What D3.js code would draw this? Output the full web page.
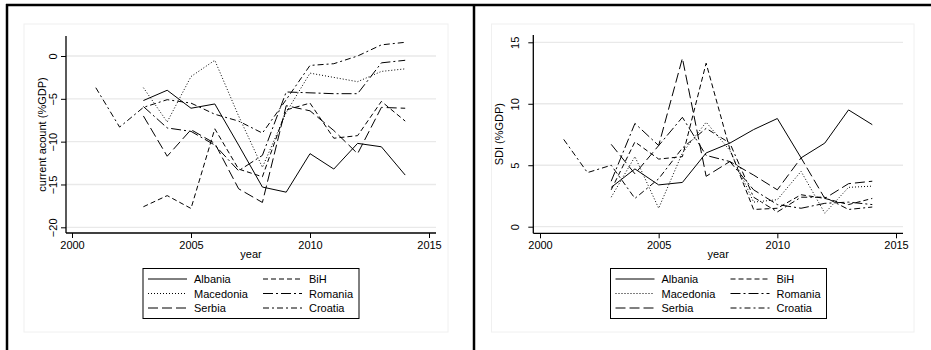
<!DOCTYPE html>
<html>
<head>
<meta charset="utf-8">
<script src="https://cdn.jsdelivr.net/npm/d3@7"></script>
<style>
  body { margin: 0; background: #fff; }
  svg { display: block; font-family: "Liberation Sans", Arial, sans-serif; }
  .tick text { font-size: 11px; fill: #000; }
</style>
</head>
<body>
<div id="chart"></div>
<script>
// years
const years = [2003, 2004, 2005, 2006, 2007, 2008, 2009, 2010, 2011, 2012, 2013, 2014];
const yearsCroatia = [2001, 2002, 2003, 2004, 2005, 2006, 2007, 2008, 2009, 2010, 2011, 2012, 2013, 2014];

const countries = ["Albania", "BiH", "Macedonia", "Romania", "Serbia", "Croatia"];

// current account (%GDP)
const caAlbania   = [-5.2, -4.0, -6.1, -5.6, -10.4, -15.3, -15.9, -11.4, -13.2, -10.2, -10.6, -13.9];
const caBiH       = [-17.6, -16.3, -17.8, -8.5, -13.2, -14.1, -6.3, -5.5, -9.6, -9.3, -5.3, -7.6];
const caMacedonia = [-3.7, -7.7, -2.4, -0.5, -7.0, -13.0, -6.6, -2.0, -2.5, -3.0, -1.8, -1.5];
const caRomania   = [-5.9, -8.4, -8.8, -10.4, -13.4, -11.6, -4.2, -4.3, -4.4, -4.4, -0.8, -0.5];
const caSerbia    = [-7.0, -11.7, -8.6, -10.2, -15.5, -17.1, -5.8, -6.4, -8.7, -11.4, -6.0, -6.1];
const caCroatia   = [-3.7, -8.3, -6.0, -5.1, -5.5, -6.8, -7.6, -9.0, -5.1, -1.1, -0.9, 0.0, 1.3, 1.6];

// SDI (%GDP)
const sdiAlbania   = [3.2, 4.7, 3.4, 3.6, 6.0, 6.8, 7.9, 8.8, 5.6, 6.8, 9.5, 8.3];
const sdiBiH       = [3.0, 6.9, 5.5, 5.7, 13.3, 6.3, 1.4, 1.5, 2.6, 2.3, 1.8, 2.3];
const sdiMacedonia = [2.4, 5.7, 1.5, 6.0, 8.5, 6.2, 2.0, 2.2, 4.5, 1.1, 3.2, 3.3];
const sdiRomania   = [3.7, 8.4, 6.6, 8.9, 5.8, 5.3, 3.0, 1.8, 1.5, 1.9, 2.0, 1.8];
const sdiSerbia    = [6.7, 4.3, 6.6, 13.7, 4.1, 5.3, 4.2, 3.0, 5.6, 2.3, 3.5, 3.7];
const sdiCroatia   = [7.1, 4.4, 5.0, 2.3, 3.9, 6.4, 8.0, 6.8, 2.4, 1.2, 2.4, 2.4, 1.4, 1.6];

const xTicks = [2000, 2005, 2010, 2015];
const caTicks = [-20, -15, -10, -5, 0];
const sdiTicks = [0, 5, 10, 15];

// line patterns
const dashes = {
  Albania: null,
  BiH: "5,3",
  Macedonia: "1,2",
  Romania: "10,3,2,3",
  Serbia: "10,4",
  Croatia: "6,3,2,3"
};

const svg = d3.select("#chart").append("svg")
  .attr("width", 931)
  .attr("height", 350);

function drawPanel(p) {
  const g = svg.append("g");

  g.append("rect")
    .attr("x", p.region[0]).attr("y", p.region[1])
    .attr("width", p.region[2] - p.region[0]).attr("height", p.region[3] - p.region[1])
    .attr("fill", "#fff").attr("stroke", "#f0f0f0").attr("stroke-width", 1);

  const x = d3.scaleLinear().domain([2000, 2015]).range(p.xRange);
  const y = d3.scaleLinear().domain(p.yDomain).range(p.yRange);

  // grid
  g.append("g").selectAll("line").data(p.yTicks).enter()
    .append("line")
    .attr("x1", p.axisX).attr("x2", p.gridEnd)
    .attr("y1", d => y(d)).attr("y2", d => y(d))
    .attr("stroke", "#e9e9e9").attr("stroke-width", 1.3);

  // y axis
  const yAxis = g.append("g")
    .attr("transform", `translate(${p.axisX},0)`)
    .call(d3.axisLeft(y).tickValues(p.yTicks).tickSize(5).tickFormat(d3.format("d")));
  yAxis.select(".domain").remove();
  yAxis.selectAll(".tick line").attr("stroke", "#000").attr("stroke-width", 1);
  yAxis.selectAll(".tick text")
    .attr("x", null).attr("dy", null)
    .attr("text-anchor", "middle")
    .attr("transform", `translate(${p.tickLabelX - p.axisX + 4},0) rotate(-90)`);

  g.append("line")
    .attr("x1", p.axisX).attr("x2", p.axisX)
    .attr("y1", p.axisTop).attr("y2", p.axisY)
    .attr("stroke", "#000").attr("stroke-width", 1.3);

  // x axis
  const xAxis = g.append("g")
    .attr("transform", `translate(0,${p.axisY})`)
    .call(d3.axisBottom(x).tickValues(xTicks).tickSize(5).tickPadding(3).tickFormat(d3.format("d")));
  xAxis.select(".domain").remove();
  xAxis.selectAll(".tick line").attr("stroke", "#000").attr("stroke-width", 1);

  g.append("line")
    .attr("x1", p.axisX).attr("x2", p.gridEnd)
    .attr("y1", p.axisY).attr("y2", p.axisY)
    .attr("stroke", "#000").attr("stroke-width", 1.3);

  // axis titles
  g.append("text")
    .attr("transform", `translate(${p.yLabelX + 4},${(p.axisTop + p.axisY) / 2}) rotate(-90)`)
    .attr("text-anchor", "middle")
    .attr("font-size", 11)
    .text(p.yLabel);

  g.append("text")
    .attr("x", (p.axisX + p.gridEnd) / 2)
    .attr("y", 258)
    .attr("text-anchor", "middle")
    .attr("font-size", 11)
    .text("year");

  // series
  const line = d3.line()
    .x(d => x(d[0]))
    .y(d => y(d[1]));

  g.append("g").selectAll("path").data(p.series).enter()
    .append("path")
    .attr("d", d => line(d.years.map((yr, i) => [yr, d.values[i]])))
    .attr("fill", "none")
    .attr("stroke", "#000")
    .attr("stroke-width", 1)
    .attr("stroke-dasharray", d => dashes[d.name]);

  // legend
  const lx = p.legendX;
  const legend = g.append("g");
  legend.append("rect")
    .attr("x", lx).attr("y", 268.5)
    .attr("width", 216).attr("height", 50)
    .attr("fill", "#fff").attr("stroke", "#000").attr("stroke-width", 1);

  const items = legend.selectAll("g.item").data(countries).enter()
    .append("g")
    .attr("class", "item")
    .attr("transform", (d, i) => `translate(${lx + (i % 2) * 115},${279 + Math.floor(i / 2) * 14.5})`);

  items.append("line")
    .attr("x1", 5).attr("x2", 44)
    .attr("y1", 0).attr("y2", 0)
    .attr("stroke", "#000").attr("stroke-width", 1)
    .attr("stroke-dasharray", d => dashes[d]);

  items.append("text")
    .attr("x", 51).attr("y", 4)
    .attr("font-size", 11)
    .text(d => d);
}

drawPanel({
  region: [24, 24, 448, 332],
  xRange: [72, 429],
  yDomain: [-20, 0],
  yRange: [227.3, 56],
  yTicks: caTicks,
  axisX: 66,
  axisTop: 36,
  axisY: 233,
  gridEnd: 436,
  tickLabelX: 53.3,
  yLabelX: 42,
  yLabel: "current acount (%GDP)",
  legendX: 143,
  series: [
    { name: "Albania", years: years, values: caAlbania },
    { name: "BiH", years: years, values: caBiH },
    { name: "Macedonia", years: years, values: caMacedonia },
    { name: "Romania", years: years, values: caRomania },
    { name: "Serbia", years: years, values: caSerbia },
    { name: "Croatia", years: yearsCroatia, values: caCroatia }
  ]
});

drawPanel({
  region: [491.5, 24, 914, 332],
  xRange: [540, 896],
  yDomain: [0, 15],
  yRange: [226.7, 42.3],
  yTicks: sdiTicks,
  axisX: 533.3,
  axisTop: 35,
  axisY: 233.3,
  gridEnd: 903,
  tickLabelX: 514.5,
  yLabelX: 498.5,
  yLabel: "SDI (%GDP)",
  legendX: 610.5,
  series: [
    { name: "Albania", years: years, values: sdiAlbania },
    { name: "BiH", years: years, values: sdiBiH },
    { name: "Macedonia", years: years, values: sdiMacedonia },
    { name: "Romania", years: years, values: sdiRomania },
    { name: "Serbia", years: years, values: sdiSerbia },
    { name: "Croatia", years: yearsCroatia, values: sdiCroatia }
  ]
});

// outer frame
svg.append("line").attr("x1", 6).attr("x2", 931).attr("y1", 5).attr("y2", 5)
  .attr("stroke", "#000").attr("stroke-width", 2.5);
svg.append("line").attr("x1", 7).attr("x2", 7).attr("y1", 4).attr("y2", 350)
  .attr("stroke", "#000").attr("stroke-width", 2.5);
svg.append("line").attr("x1", 474).attr("x2", 474).attr("y1", 4).attr("y2", 350)
  .attr("stroke", "#000").attr("stroke-width", 2.5);
</script>
</body>
</html>
